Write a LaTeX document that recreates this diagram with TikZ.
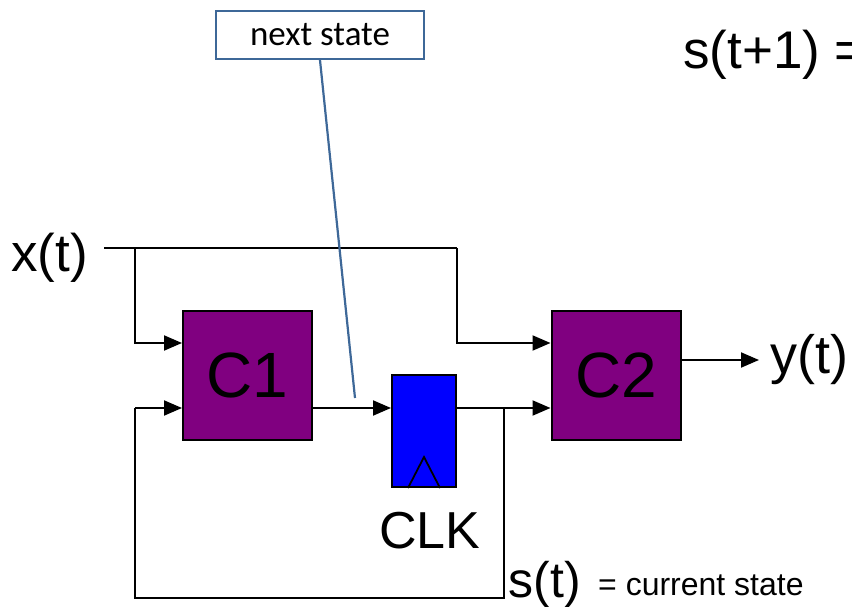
\documentclass[tikz,border=0pt]{standalone}
\usepackage{fontspec}
\setmainfont{Liberation Sans}
\newfontfamily\calib{Carlito}
\usetikzlibrary{arrows.meta}
\definecolor{cpurple}{RGB}{128,0,128}
\definecolor{cblue}{RGB}{0,0,255}
\definecolor{noteblue}{RGB}{62,104,152}
\begin{document}
\begin{tikzpicture}[x=1pt,y=-1pt,
  wire/.style={line width=2pt,black},
  arr/.style={wire,-{Triangle[length=18pt,width=15pt]}},
  combbox/.style={draw=black,line width=2pt,fill=cpurple,inner sep=0pt,minimum width=129pt,minimum height=129pt,font=\fontsize{64}{70}\selectfont},
  ffbox/.style={draw=black,line width=2pt,fill=cblue,inner sep=0pt,minimum width=64pt,minimum height=112pt},
  lbl/.style={anchor=base west,inner sep=0pt},
  notebox/.style={draw=noteblue,line width=2.2pt,fill=white,inner sep=0pt,minimum width=208pt,minimum height=48pt,font=\calib\fontsize{35}{40}\selectfont}
]
\useasboundingbox (0,0) rectangle (852,607);

% blocks
\node[combbox] (c1) at (247.5,375.5) {C1};
\node[combbox] (c2) at (616,375) {C2};
\node[ffbox] (ff) at (424,431) {};
\draw[line width=1.8pt,black] ([xshift=-16pt]ff.south) -- ([yshift=31pt]ff.south) -- ([xshift=16pt]ff.south);

% labels
\node[lbl,font=\fontsize{53}{60}\selectfont] (xt) at (11,271) {x(t)};
\node[lbl,font=\fontsize{54}{60}\selectfont] (yt) at (770,373) {y(t)};
\node[lbl,font=\fontsize{52}{60}\selectfont] (clk) at (379,548) {CLK};
\node[lbl,font=\fontsize{50}{60}\selectfont] (st) at (508.5,597) {s(t)};
\node[lbl,font=\fontsize{32}{36}\selectfont] (cs) at (598,595) {= current state};
\node[lbl,font=\fontsize{53}{60}\selectfont] (stp) at (683,69) {s(t+1) =};

% coordinates
\coordinate (xs) at (104,248);
\coordinate (xj1) at (135,248);
\coordinate (xj2) at (457,248);
\coordinate (sj) at (504,408);
\coordinate (yend) at (759,360);
\coordinate (nsend) at (355,398);

% wires
\draw[wire] (xs) -- (xj2);
\draw[arr] (xj2) |- (c2.west |- 0,343);
\draw[arr] (xj1) |- (c1.west |- 0,343);
\draw[arr] (c1.east |- 0,408) -- (ff.west |- 0,408);
\draw[arr] (ff.east |- 0,408) -- (c2.west |- 0,408);
\draw[wire] (sj) -- (504,598) -- (135,598) -- (135,408);
\draw[arr] (135,408) -- (c1.west |- 0,408);
\draw[arr] (c2.east |- 0,360) -- (yend);

% note
\node[notebox] (ns) at (320,35) {next state};
\draw[noteblue,line width=2.2pt] (ns.south) -- (nsend);
\end{tikzpicture}
\end{document}
